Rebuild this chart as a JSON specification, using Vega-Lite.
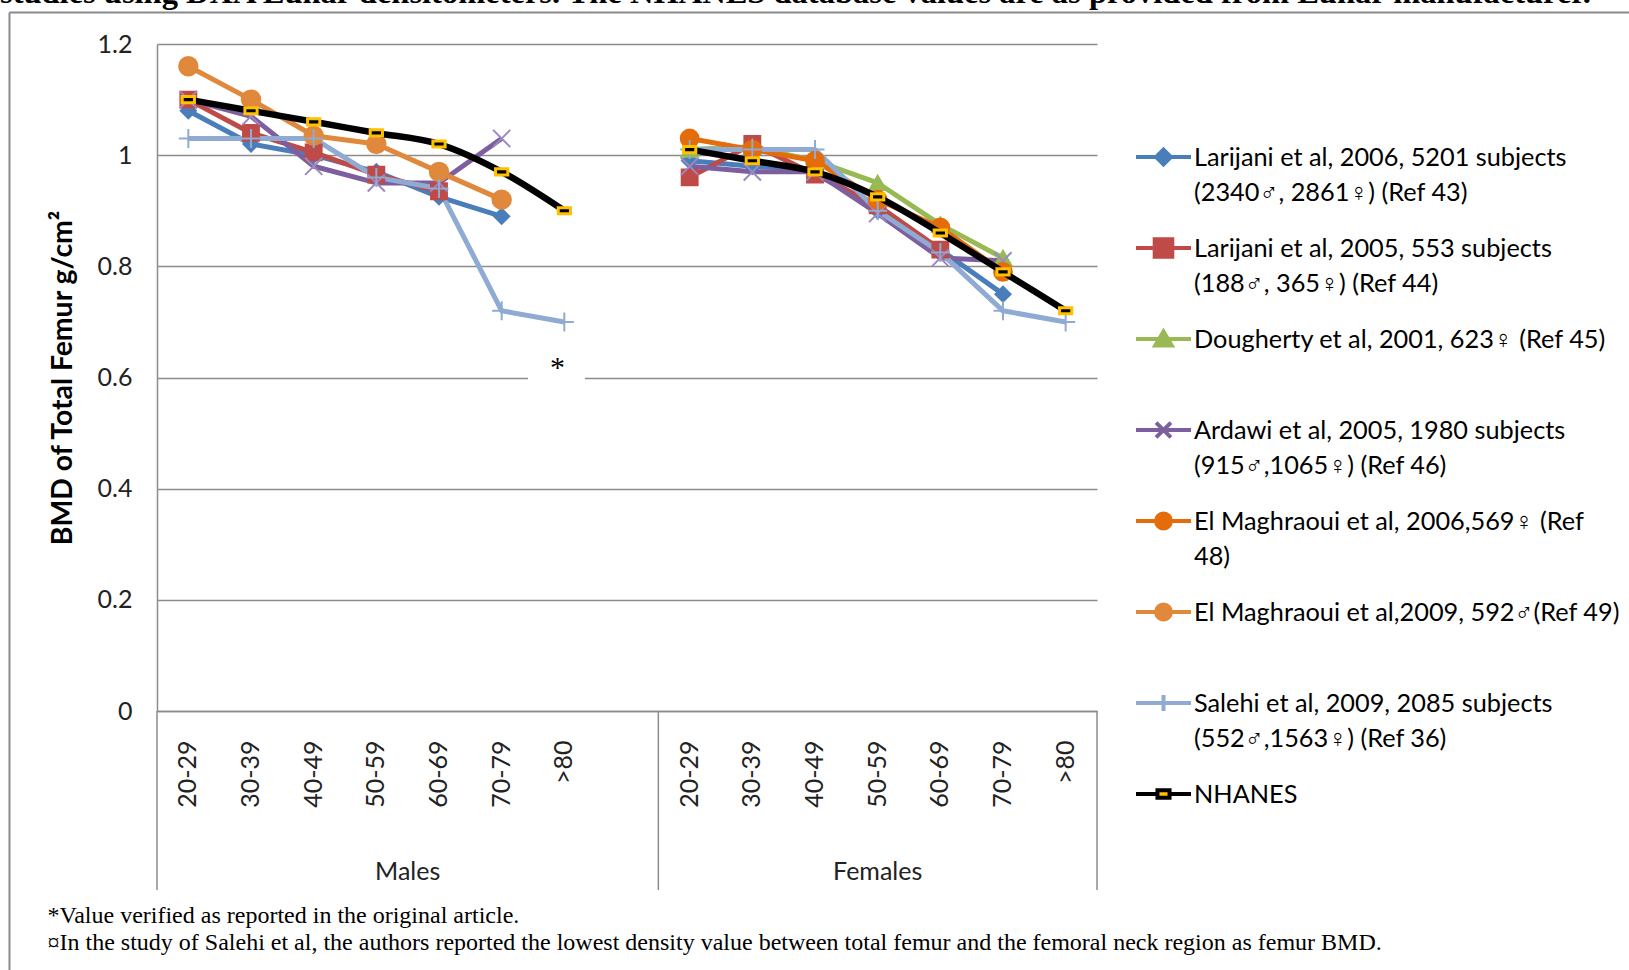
{
  "$schema": "https://vega.github.io/schema/vega-lite/v6.json",
  "width": 940,
  "height": 667,
  "autosize": {"type": "none"},
  "padding": {"left": 157, "top": 44, "right": 532, "bottom": 259},
  "background": "white",
  "title": {
    "text": "studies using DXA Lunar densitometers. The NHANES database values are as provided  from Lunar manufacturer.",
    "anchor": "start",
    "frame": "group",
    "dx": -157,
    "offset": -24,
    "baseline": "alphabetic",
    "font": "Liberation Serif",
    "fontSize": 32.5,
    "fontWeight": "bold",
    "color": "#000000"
  },
  "datasets": {
    "bmd": [
      {"s": "L2006", "sex": "M", "age": "M 20-29", "v": 1.08},
      {"s": "L2006", "sex": "M", "age": "M 30-39", "v": 1.02},
      {"s": "L2006", "sex": "M", "age": "M 40-49", "v": 1.0},
      {"s": "L2006", "sex": "M", "age": "M 50-59", "v": 0.97},
      {"s": "L2006", "sex": "M", "age": "M 60-69", "v": 0.925},
      {"s": "L2006", "sex": "M", "age": "M 70-79", "v": 0.89},
      {"s": "L2006", "sex": "F", "age": "F 20-29", "v": 0.99},
      {"s": "L2006", "sex": "F", "age": "F 30-39", "v": 0.98},
      {"s": "L2006", "sex": "F", "age": "F 40-49", "v": 0.975},
      {"s": "L2006", "sex": "F", "age": "F 50-59", "v": 0.9},
      {"s": "L2006", "sex": "F", "age": "F 60-69", "v": 0.83},
      {"s": "L2006", "sex": "F", "age": "F 70-79", "v": 0.75},
      {"s": "L2005", "sex": "M", "age": "M 20-29", "v": 1.1},
      {"s": "L2005", "sex": "M", "age": "M 30-39", "v": 1.04},
      {"s": "L2005", "sex": "M", "age": "M 40-49", "v": 1.005},
      {"s": "L2005", "sex": "M", "age": "M 50-59", "v": 0.965},
      {"s": "L2005", "sex": "M", "age": "M 60-69", "v": 0.935},
      {"s": "L2005", "sex": "F", "age": "F 20-29", "v": 0.96},
      {"s": "L2005", "sex": "F", "age": "F 30-39", "v": 1.02},
      {"s": "L2005", "sex": "F", "age": "F 40-49", "v": 0.965},
      {"s": "L2005", "sex": "F", "age": "F 50-59", "v": 0.91},
      {"s": "L2005", "sex": "F", "age": "F 60-69", "v": 0.83},
      {"s": "D2001", "sex": "F", "age": "F 20-29", "v": 1.01},
      {"s": "D2001", "sex": "F", "age": "F 30-39", "v": 1.015},
      {"s": "D2001", "sex": "F", "age": "F 40-49", "v": 0.99},
      {"s": "D2001", "sex": "F", "age": "F 50-59", "v": 0.95},
      {"s": "D2001", "sex": "F", "age": "F 60-69", "v": 0.875},
      {"s": "D2001", "sex": "F", "age": "F 70-79", "v": 0.815},
      {"s": "A2005", "sex": "M", "age": "M 20-29", "v": 1.1},
      {"s": "A2005", "sex": "M", "age": "M 30-39", "v": 1.07},
      {"s": "A2005", "sex": "M", "age": "M 40-49", "v": 0.98},
      {"s": "A2005", "sex": "M", "age": "M 50-59", "v": 0.95},
      {"s": "A2005", "sex": "M", "age": "M 60-69", "v": 0.95},
      {"s": "A2005", "sex": "M", "age": "M 70-79", "v": 1.03},
      {"s": "A2005", "sex": "F", "age": "F 20-29", "v": 0.98},
      {"s": "A2005", "sex": "F", "age": "F 30-39", "v": 0.97},
      {"s": "A2005", "sex": "F", "age": "F 40-49", "v": 0.97},
      {"s": "A2005", "sex": "F", "age": "F 50-59", "v": 0.895},
      {"s": "A2005", "sex": "F", "age": "F 60-69", "v": 0.815},
      {"s": "A2005", "sex": "F", "age": "F 70-79", "v": 0.81},
      {"s": "EM2006", "sex": "F", "age": "F 20-29", "v": 1.03},
      {"s": "EM2006", "sex": "F", "age": "F 30-39", "v": 1.01},
      {"s": "EM2006", "sex": "F", "age": "F 40-49", "v": 0.99},
      {"s": "EM2006", "sex": "F", "age": "F 50-59", "v": 0.92},
      {"s": "EM2006", "sex": "F", "age": "F 60-69", "v": 0.87},
      {"s": "EM2006", "sex": "F", "age": "F 70-79", "v": 0.79},
      {"s": "EM2009", "sex": "M", "age": "M 20-29", "v": 1.16},
      {"s": "EM2009", "sex": "M", "age": "M 30-39", "v": 1.1},
      {"s": "EM2009", "sex": "M", "age": "M 40-49", "v": 1.035},
      {"s": "EM2009", "sex": "M", "age": "M 50-59", "v": 1.02},
      {"s": "EM2009", "sex": "M", "age": "M 60-69", "v": 0.97},
      {"s": "EM2009", "sex": "M", "age": "M 70-79", "v": 0.92},
      {"s": "S2009", "sex": "M", "age": "M 20-29", "v": 1.03},
      {"s": "S2009", "sex": "M", "age": "M 30-39", "v": 1.03},
      {"s": "S2009", "sex": "M", "age": "M 40-49", "v": 1.03},
      {"s": "S2009", "sex": "M", "age": "M 50-59", "v": 0.96},
      {"s": "S2009", "sex": "M", "age": "M 60-69", "v": 0.94},
      {"s": "S2009", "sex": "M", "age": "M 70-79", "v": 0.72},
      {"s": "S2009", "sex": "M", "age": "M >80", "v": 0.7},
      {"s": "S2009", "sex": "F", "age": "F 20-29", "v": 1.01},
      {"s": "S2009", "sex": "F", "age": "F 30-39", "v": 1.01},
      {"s": "S2009", "sex": "F", "age": "F 40-49", "v": 1.01},
      {"s": "S2009", "sex": "F", "age": "F 50-59", "v": 0.9},
      {"s": "S2009", "sex": "F", "age": "F 60-69", "v": 0.825},
      {"s": "S2009", "sex": "F", "age": "F 70-79", "v": 0.72},
      {"s": "S2009", "sex": "F", "age": "F >80", "v": 0.7},
      {"s": "NHANES", "sex": "M", "age": "M 20-29", "v": 1.1},
      {"s": "NHANES", "sex": "M", "age": "M 30-39", "v": 1.08},
      {"s": "NHANES", "sex": "M", "age": "M 40-49", "v": 1.06},
      {"s": "NHANES", "sex": "M", "age": "M 50-59", "v": 1.04},
      {"s": "NHANES", "sex": "M", "age": "M 60-69", "v": 1.02},
      {"s": "NHANES", "sex": "M", "age": "M 70-79", "v": 0.97},
      {"s": "NHANES", "sex": "M", "age": "M >80", "v": 0.9},
      {"s": "NHANES", "sex": "F", "age": "F 20-29", "v": 1.01},
      {"s": "NHANES", "sex": "F", "age": "F 30-39", "v": 0.99},
      {"s": "NHANES", "sex": "F", "age": "F 40-49", "v": 0.97},
      {"s": "NHANES", "sex": "F", "age": "F 50-59", "v": 0.925},
      {"s": "NHANES", "sex": "F", "age": "F 60-69", "v": 0.86},
      {"s": "NHANES", "sex": "F", "age": "F 70-79", "v": 0.79},
      {"s": "NHANES", "sex": "F", "age": "F >80", "v": 0.72}
    ],
    "edges": [
      {"age": "M 20-29", "side": "start"},
      {"age": "F 20-29", "side": "start"},
      {"age": "F >80", "side": "end"}
    ],
    "groups": [
      {"age": "M 50-59", "label": "Males"},
      {"age": "F 50-59", "label": "Females"}
    ],
    "note": [
      {"age": "M >80", "v": 0.6, "mark": "*"}
    ]
  },
  "layer": [
    {
      "data": {"name": "bmd"},
      "transform": [{"filter": "datum.s != 'NHANES'"}],
      "mark": {"type": "line", "strokeWidth": 5, "strokeJoin": "round"},
      "encoding": {
        "x": {
          "field": "age", "type": "ordinal", "bandPosition": 0.5,
          "scale": {"type": "band", "domain": ["M 20-29", "M 30-39", "M 40-49", "M 50-59", "M 60-69", "M 70-79", "M >80", "M gap", "F 20-29", "F 30-39", "F 40-49", "F 50-59", "F 60-69", "F 70-79", "F >80"], "paddingInner": 0, "paddingOuter": 0},
          "axis": {
            "title": ["*Value verified as reported in the original article.", "¤In the study of Salehi et al, the authors reported the lowest density value between total femur and the femoral neck region as femur BMD."],
            "labelAngle": -90,
            "labelPadding": 29,
            "labelExpr": "datum.value == 'M gap' ? '' : slice(datum.value, 2)",
            "grid": false,
            "titleFont": "Liberation Serif",
            "titleFontSize": 24,
            "titleFontWeight": "normal",
            "titleColor": "#000000",
            "titleX": -110,
            "titleY": 192,
            "titleAlign": "left",
            "titleAnchor": "start",
            "titleBaseline": "top",
            "titleLineHeight": 27,
            "titleLimit": 2000
          }
        },
        "y": {
          "field": "v", "type": "quantitative",
          "scale": {"domain": [0, 1.2], "nice": false, "zero": true},
          "axis": {
            "title": "BMD of Total Femur g/cm²",
            "values": [0, 0.2, 0.4, 0.6, 0.8, 1, 1.2],
            "format": "~g",
            "labelPadding": 25,
            "titleFontWeight": "bold",
            "titleFontSize": 28.4,
            "titlePadding": 20,
            "grid": true
          }
        },
        "color": {
          "field": "s", "type": "nominal",
          "scale": {"domain": ["L2006", "L2005", "D2001", "A2005", "EM2006", "EM2009", "S2009"], "range": ["#4A7EBB", "#BE4B48", "#98B954", "#7D5FA0", "#E46C0A", "#E0883B", "#8FAAD3"]},
          "legend": null
        },
        "detail": {"field": "sex", "type": "nominal"}
      }
    },
    {
      "data": {"name": "bmd"},
      "transform": [{"filter": "datum.s != 'NHANES'"}],
      "mark": {"type": "point", "filled": true, "strokeWidth": 2, "opacity": 1},
      "encoding": {
        "x": {"field": "age", "type": "ordinal", "bandPosition": 0.5},
        "y": {"field": "v", "type": "quantitative"},
        "fill": {
          "field": "s", "type": "nominal",
          "scale": {"domain": ["L2006", "L2005", "D2001", "A2005", "EM2006", "EM2009", "S2009"], "range": ["#4A7EBB", "#BE4B48", "#98B954", "transparent", "#E46C0A", "#E0883B", "transparent"]},
          "legend": null
        },
        "stroke": {
          "field": "s", "type": "nominal",
          "scale": {"domain": ["L2006", "L2005", "D2001", "A2005", "EM2006", "EM2009", "S2009"], "range": ["#4A7EBB", "#BE4B48", "#98B954", "#9C87BF", "#E46C0A", "#E0883B", "#8FAAD3"]},
          "legend": null
        },
        "shape": {
          "field": "s", "type": "nominal",
          "scale": {"domain": ["L2006", "L2005", "D2001", "A2005", "EM2006", "EM2009", "S2009"], "range": ["diamond", "square", "triangle-up", "M-1,-1L1,1M-1,1L1,-1", "circle", "circle", "M-1,0H1M0,-1V1"]},
          "legend": null
        },
        "size": {
          "field": "s", "type": "nominal",
          "scale": {"domain": ["L2006", "L2005", "D2001", "A2005", "EM2006", "EM2009", "S2009"], "range": [230, 361, 230, 484, 400, 484, 484]},
          "legend": null
        }
      }
    },
    {
      "data": {"name": "bmd"},
      "transform": [{"filter": "datum.s == 'NHANES'"}],
      "mark": {"type": "line", "strokeWidth": 6.5, "color": "#000000", "interpolate": "monotone"},
      "encoding": {
        "x": {"field": "age", "type": "ordinal", "bandPosition": 0.5},
        "y": {"field": "v", "type": "quantitative"},
        "detail": {"field": "sex", "type": "nominal"}
      }
    },
    {
      "data": {"name": "bmd"},
      "transform": [{"filter": "datum.s == 'NHANES'"}],
      "mark": {"type": "point", "filled": true, "shape": "M-1,-0.5H1V0.5H-1Z", "size": 150, "fill": "#000000", "stroke": "#FFC000", "strokeWidth": 3, "opacity": 1},
      "encoding": {
        "x": {"field": "age", "type": "ordinal", "bandPosition": 0.5},
        "y": {"field": "v", "type": "quantitative"}
      }
    },
    {
      "data": {"name": "bmd"},
      "transform": [{"filter": "false"}],
      "mark": {"type": "point", "filled": true, "strokeWidth": 4, "opacity": 1},
      "encoding": {
        "x": {"field": "age", "type": "ordinal", "bandPosition": 0.5},
        "y": {"field": "v", "type": "quantitative"},
        "fill": {
          "field": "s", "type": "nominal",
          "scale": {"domain": ["L2006", "L2005", "D2001", "A2005", "EM2006", "EM2009", "S2009", "NHANES"], "range": ["#4A7EBB", "#BE4B48", "#98B954", "#7D5FA0", "#E46C0A", "#E0883B", "#8FAAD3", "#FFC000"]},
          "legend": {"title": null, "orient": "none", "legendX": 977, "legendY": 92, "encode": {"labels": {"update": {"lineHeight": {"value": 35}}}}, "labelExpr": "datum.value == 'L2006' ? ['Larijani et al, 2006, 5201 subjects', '(2340♂, 2861♀) (Ref 43)'] : datum.value == 'L2005' ? ['Larijani et al, 2005, 553 subjects', '(188♂, 365♀) (Ref 44)'] : datum.value == 'D2001' ? ['Dougherty et al, 2001, 623♀ (Ref 45)', ' '] : datum.value == 'A2005' ? ['Ardawi et al, 2005, 1980 subjects', '(915♂,1065♀) (Ref 46)'] : datum.value == 'EM2006' ? ['El Maghraoui et al, 2006,569♀ (Ref', '48)'] : datum.value == 'EM2009' ? ['El Maghraoui et al,2009, 592♂(Ref 49)', ' '] : datum.value == 'S2009' ? ['Salehi et al, 2009, 2085 subjects', '(552♂,1563♀) (Ref 36)'] : ['NHANES', ' ']"}
        },
        "stroke": {
          "field": "s", "type": "nominal",
          "scale": {"domain": ["L2006", "L2005", "D2001", "A2005", "EM2006", "EM2009", "S2009", "NHANES"], "range": ["#4A7EBB", "#BE4B48", "#98B954", "#7D5FA0", "#E46C0A", "#E0883B", "#8FAAD3", "#000000"]},
          "legend": {"title": null, "orient": "none", "legendX": 977, "legendY": 92, "encode": {"labels": {"update": {"lineHeight": {"value": 35}}}}, "labelExpr": "datum.value == 'L2006' ? ['Larijani et al, 2006, 5201 subjects', '(2340♂, 2861♀) (Ref 43)'] : datum.value == 'L2005' ? ['Larijani et al, 2005, 553 subjects', '(188♂, 365♀) (Ref 44)'] : datum.value == 'D2001' ? ['Dougherty et al, 2001, 623♀ (Ref 45)', ' '] : datum.value == 'A2005' ? ['Ardawi et al, 2005, 1980 subjects', '(915♂,1065♀) (Ref 46)'] : datum.value == 'EM2006' ? ['El Maghraoui et al, 2006,569♀ (Ref', '48)'] : datum.value == 'EM2009' ? ['El Maghraoui et al,2009, 592♂(Ref 49)', ' '] : datum.value == 'S2009' ? ['Salehi et al, 2009, 2085 subjects', '(552♂,1563♀) (Ref 36)'] : ['NHANES', ' ']"}
        },
        "shape": {
          "field": "s", "type": "nominal",
          "scale": {"domain": ["L2006", "L2005", "D2001", "A2005", "EM2006", "EM2009", "S2009", "NHANES"], "range": [
            "M-1,-0.31H1M0,-0.58L0.27,-0.31L0,-0.04L-0.27,-0.31Z",
            "M-1,-0.31H1M-0.32,-0.63H0.32V0.01H-0.32Z",
            "M-1,-0.31H1M0,-0.58L0.3,-0.07H-0.3Z",
            "M-1,-0.31H1M-0.27,-0.58L0.27,-0.04M-0.27,-0.04L0.27,-0.58",
            "M-1,-0.31H1M0.27,-0.31C0.27,-0.161 0.149,-0.04 0,-0.04C-0.149,-0.04 -0.27,-0.161 -0.27,-0.31C-0.27,-0.459 -0.149,-0.58 0,-0.58C0.149,-0.58 0.27,-0.459 0.27,-0.31Z",
            "M-1,-0.31H1M0.27,-0.31C0.27,-0.161 0.149,-0.04 0,-0.04C-0.149,-0.04 -0.27,-0.161 -0.27,-0.31C-0.27,-0.459 -0.149,-0.58 0,-0.58C0.149,-0.58 0.27,-0.459 0.27,-0.31Z",
            "M-1,-0.31H1M0,-0.6V-0.02",
            "M-1,-0.31H-0.22M0.22,-0.31H1M-0.22,-0.45H0.22V-0.17H-0.22Z"
          ]},
          "legend": {"title": null, "orient": "none", "legendX": 977, "legendY": 92, "encode": {"labels": {"update": {"lineHeight": {"value": 35}}}}, "labelExpr": "datum.value == 'L2006' ? ['Larijani et al, 2006, 5201 subjects', '(2340♂, 2861♀) (Ref 43)'] : datum.value == 'L2005' ? ['Larijani et al, 2005, 553 subjects', '(188♂, 365♀) (Ref 44)'] : datum.value == 'D2001' ? ['Dougherty et al, 2001, 623♀ (Ref 45)', ' '] : datum.value == 'A2005' ? ['Ardawi et al, 2005, 1980 subjects', '(915♂,1065♀) (Ref 46)'] : datum.value == 'EM2006' ? ['El Maghraoui et al, 2006,569♀ (Ref', '48)'] : datum.value == 'EM2009' ? ['El Maghraoui et al,2009, 592♂(Ref 49)', ' '] : datum.value == 'S2009' ? ['Salehi et al, 2009, 2085 subjects', '(552♂,1563♀) (Ref 36)'] : ['NHANES', ' ']"}
        }
      }
    },
    {
      "data": {"name": "edges"},
      "transform": [{"filter": "datum.side == 'start'"}],
      "mark": {"type": "rule", "color": "#8c8c8c", "strokeWidth": 1.5},
      "encoding": {
        "x": {"field": "age", "type": "ordinal", "bandPosition": 0},
        "y": {"datum": 0, "type": "quantitative"},
        "y2": {"datum": -0.322}
      }
    },
    {
      "data": {"name": "edges"},
      "transform": [{"filter": "datum.side == 'end'"}],
      "mark": {"type": "rule", "color": "#8c8c8c", "strokeWidth": 1.5},
      "encoding": {
        "x": {"field": "age", "type": "ordinal", "bandPosition": 1},
        "y": {"datum": 0, "type": "quantitative"},
        "y2": {"datum": -0.322}
      }
    },
    {
      "data": {"name": "edges"},
      "transform": [{"filter": "datum.age == 'M 20-29'"}],
      "mark": {"type": "rule", "color": "#8a8a8a", "strokeWidth": 2},
      "encoding": {
        "x": {"field": "age", "type": "ordinal", "bandPosition": -2.354},
        "y": {"datum": 1.2567, "type": "quantitative"},
        "y2": {"datum": -0.47}
      }
    },
    {
      "data": {"name": "edges"},
      "transform": [{"filter": "datum.age == 'M 20-29'"}],
      "mark": {"type": "rule", "color": "#8a8a8a", "strokeWidth": 2},
      "encoding": {
        "x": {"field": "age", "type": "ordinal", "bandPosition": -2.354},
        "x2": {"datum": "F >80", "bandPosition": 9.8},
        "y": {"datum": 1.2567, "type": "quantitative"}
      }
    },
    {
      "data": {"name": "groups"},
      "transform": [{"filter": "datum.label == 'Males'"}],
      "mark": {"type": "text", "font": "Lato", "fontSize": 25, "color": "#222222", "baseline": "middle", "align": "center"},
      "encoding": {
        "x": {"field": "age", "type": "ordinal", "bandPosition": 1},
        "y": {"datum": -0.29, "type": "quantitative"},
        "text": {"field": "label"}
      }
    },
    {
      "data": {"name": "groups"},
      "transform": [{"filter": "datum.label == 'Females'"}],
      "mark": {"type": "text", "font": "Lato", "fontSize": 25, "color": "#222222", "baseline": "middle", "align": "center"},
      "encoding": {
        "x": {"field": "age", "type": "ordinal", "bandPosition": 0.5},
        "y": {"datum": -0.29, "type": "quantitative"},
        "text": {"field": "label"}
      }
    },
    {
      "data": {"name": "note"},
      "mark": {"type": "point", "shape": "square", "filled": true, "fill": "#ffffff", "strokeWidth": 0, "size": 3249, "opacity": 1},
      "encoding": {
        "x": {"field": "age", "type": "ordinal", "bandPosition": 0.375},
        "y": {"field": "v", "type": "quantitative"}
      }
    },
    {
      "data": {"name": "note"},
      "mark": {"type": "text", "font": "Liberation Serif", "fontSize": 30, "color": "#000000", "baseline": "middle", "align": "center", "dy": -10},
      "encoding": {
        "x": {"field": "age", "type": "ordinal", "bandPosition": 0.39},
        "y": {"field": "v", "type": "quantitative"},
        "text": {"field": "mark"}
      }
    }
  ],
  "resolve": {
    "scale": {"color": "independent", "fill": "independent", "stroke": "independent", "shape": "independent", "size": "independent"}
  },
  "config": {
    "view": {"stroke": null},
    "font": "Lato",
    "axis": {
      "domainColor": "#8c8c8c",
      "domainWidth": 1.5,
      "gridColor": "#8c8c8c",
      "gridWidth": 1.3,
      "ticks": false,
      "tickSize": 0,
      "labelFont": "Lato",
      "labelFontSize": 25,
      "labelColor": "#222222",
      "titleFont": "Lato",
      "titleColor": "#000000"
    },
    "legend": {
      "padding": 0,
      "symbolSize": 3025,
      "symbolStrokeWidth": 4,
      "symbolOpacity": 1,
      "labelFont": "Lato",
      "labelFontSize": 25.3,
      "labelColor": "#000000",
      "labelLimit": 700,
      "labelBaseline": "alphabetic",
      "labelOffset": 1,
      "rowPadding": 21
    }
  }
}
